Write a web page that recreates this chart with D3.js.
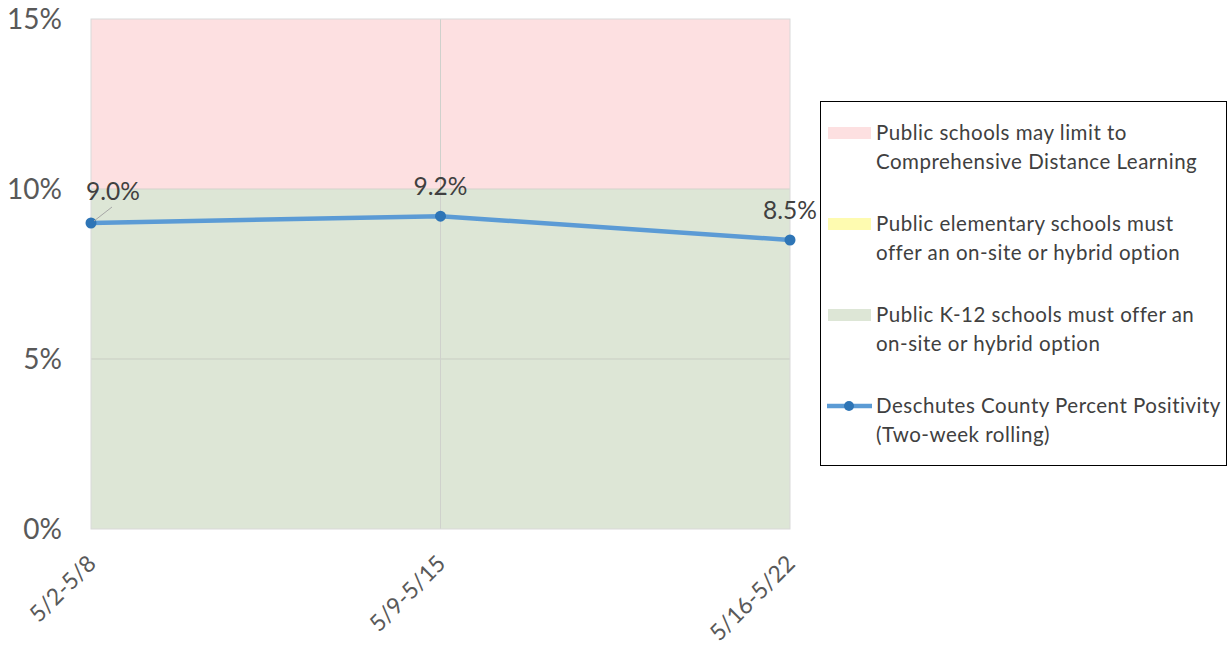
<!DOCTYPE html>
<html><head><meta charset="utf-8">
<script src="https://cdn.jsdelivr.net/npm/d3@7"></script>
<style>body{margin:0;background:#fff;}svg{display:block;font-family:Lato,"Open Sans",sans-serif;}</style>
</head><body>
<svg id="c" width="1230" height="647"></svg>
<script>
const categories = ["5/2-5/8", "5/9-5/15", "5/16-5/22"];
const positivity = [9.0, 9.2, 8.5];
const yTicks = [0, 5, 10, 15];
const bands = [
  {name: "Public schools may limit to|Comprehensive Distance Learning", from: 10, to: 15, color: "#fde0e1"},
  {name: "Public elementary schools must|offer an on-site or hybrid option", from: 10, to: 10, color: "#fefbb0"},
  {name: "Public K-12 schools must offer an|on-site or hybrid option", from: 0, to: 10, color: "#dde6d6"}
];
const lineName = "Deschutes County Percent Positivity|(Two-week rolling)";

const svg = d3.select("#c");
const L = 91, R = 790, T = 19, B = 529;
const x = d3.scalePoint().domain(categories).range([L, R]);
const y = d3.scaleLinear().domain([0, 15]).range([B, T]);

// bands
svg.selectAll("rect.band").data(bands).join("rect")
  .attr("x", L).attr("width", R - L)
  .attr("y", d => y(d.to)).attr("height", d => y(d.from) - y(d.to))
  .attr("fill", d => d.color);

// gridlines
svg.selectAll("line.hg").data(yTicks.filter(t => t > 0 && t < 15 && t !== 10)).join("line")
  .attr("x1", L).attr("x2", R).attr("y1", d => y(d)).attr("y2", d => y(d))
  .attr("stroke", "#c8cdc3").attr("stroke-width", 1);
svg.append("line").attr("x1", L).attr("x2", R).attr("y1", y(10)).attr("y2", y(10))
  .attr("stroke", "#d3d3cb").attr("stroke-width", 1);
svg.selectAll("line.vg").data(categories.slice(1, -1)).join("line")
  .attr("x1", d => x(d)).attr("x2", d => x(d)).attr("y1", T).attr("y2", B)
  .attr("stroke", "#cfd1cc").attr("stroke-width", 1);
// plot border
svg.append("rect").attr("x", L).attr("y", T).attr("width", R - L).attr("height", B - T)
  .attr("fill", "none").attr("stroke", "#d9d9d9").attr("stroke-width", 1);

// y axis labels
const yAxis = d3.axisLeft(y).tickValues(yTicks).tickFormat(d => d + "%").tickSize(0).tickPadding(0);
const ya = svg.append("g").attr("transform", `translate(62,0)`).call(yAxis);
ya.select(".domain").remove();
ya.selectAll("text").attr("font-size", 28).attr("fill", "#595959").attr("font-family", "Lato, sans-serif").attr("dy", "0.35em");

// x axis labels
const xAxis = d3.axisBottom(x).tickSize(0).tickPadding(0);
const xa = svg.append("g").attr("transform", `translate(0,${B})`).call(xAxis);
xa.select(".domain").remove();
xa.selectAll("text").attr("font-size", 23).attr("fill", "#595959").attr("font-family", "Lato, sans-serif")
  .attr("text-anchor", "end").attr("dy", 0)
  .attr("transform", "translate(6,36) rotate(-45)");

// line
const line = d3.line().x((d, i) => x(categories[i])).y(d => y(d));
svg.append("path").datum(positivity).attr("d", line)
  .attr("fill", "none").attr("stroke", "#5b9bd5").attr("stroke-width", 4.5).attr("stroke-linejoin", "round");
svg.selectAll("circle.pt").data(positivity).join("circle")
  .attr("cx", (d, i) => x(categories[i])).attr("cy", d => y(d)).attr("r", 5.5).attr("fill", "#2e75b6");

// data labels
const lblOff = [[22, -23], [0, -21], [0, -21]];
svg.append("line").attr("x1", x(categories[0]) + 21).attr("y1", y(positivity[0]) - 16)
  .attr("x2", x(categories[0]) + 3).attr("y2", y(positivity[0]) - 2)
  .attr("stroke", "#a6a6a6").attr("stroke-width", 1);
svg.selectAll("text.dl").data(positivity).join("text")
  .attr("x", (d, i) => x(categories[i]) + lblOff[i][0])
  .attr("y", (d, i) => y(d) + lblOff[i][1])
  .attr("text-anchor", "middle").attr("font-size", 24.5).attr("fill", "#404040")
  .text(d => d.toFixed(1) + "%");

// legend
const lg = svg.append("g");
lg.append("rect").attr("x", 820.5).attr("y", 101.5).attr("width", 406).attr("height", 364)
  .attr("fill", "#fff").attr("stroke", "#000").attr("stroke-width", 1);
const items = bands.map(b => ({name: b.name, color: b.color, type: "band"}))
  .concat([{name: lineName, type: "line"}]);
const ly0 = 133, lstep = 91;
items.forEach((it, i) => {
  const yy = ly0 + i * lstep;
  if (it.type === "band") {
    lg.append("rect").attr("x", 828).attr("y", yy - 6).attr("width", 43).attr("height", 12).attr("fill", it.color);
  } else {
    lg.append("line").attr("x1", 827).attr("x2", 872).attr("y1", yy).attr("y2", yy)
      .attr("stroke", "#5b9bd5").attr("stroke-width", 4.5);
    lg.append("circle").attr("cx", 849).attr("cy", yy).attr("r", 5).attr("fill", "#2e75b6");
  }
  const t = lg.append("text").attr("x", 876).attr("y", yy).attr("font-size", 20.5)
    .attr("letter-spacing", 0.5).attr("fill", "#404040");
  it.name.split("|").forEach((s, k) => {
    t.append("tspan").attr("x", 876).attr("y", yy + k * 29).attr("dy", "0.35em").text(s);
  });
});
</script>
</body></html>
